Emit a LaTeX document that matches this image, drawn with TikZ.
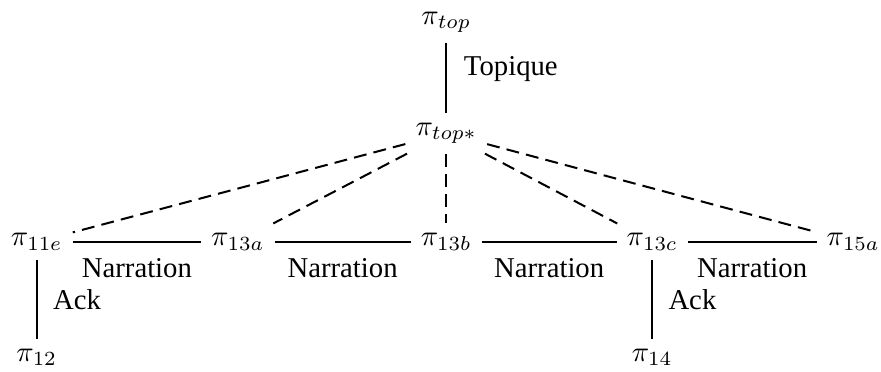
\documentclass[tikz,border=0pt]{standalone}
\usepackage{fontspec}
\setmainfont{Liberation Serif}
\usetikzlibrary{positioning}

\begin{document}
\begin{tikzpicture}[rel/.style={line width=0.7pt},
  sub/.style={line width=0.7pt,dash pattern=on 4.5pt off 2.5pt}]
\useasboundingbox (0,0) rectangle (10.78,-4.55);
\node (top) at (5.46,-0.27) {$\pi_{top}$};
\node (topstar) at (5.46,-1.63) {$\pi_{top*}$};
\foreach \n/\l/\x in {a/11e/0.45,b/13a/2.91,c/13b/5.46,d/13c/7.98,e/15a/10.44}
  \node (\n) at (\x,-2.96) {$\pi_{\l}$};
\node (f) at (0.45,-4.37) {$\pi_{12}$};
\node (g) at (7.98,-4.37) {$\pi_{14}$};
\draw[rel] (top)--(topstar) node[pos=0.38,right=2.5pt] {Topique};
\foreach \p/\q in {a/b,b/c,c/d,d/e}
  \draw[rel] (\p)--(\q) node[midway,below=2pt] {Narration};
\draw[rel] (a)--(f) node[midway,right=2pt] {Ack};
\draw[rel] (d)--(g) node[midway,right=2pt] {Ack};
\foreach \p in {a,b,c,d,e} \draw[sub] (topstar)--(\p);
\end{tikzpicture}
\end{document}
